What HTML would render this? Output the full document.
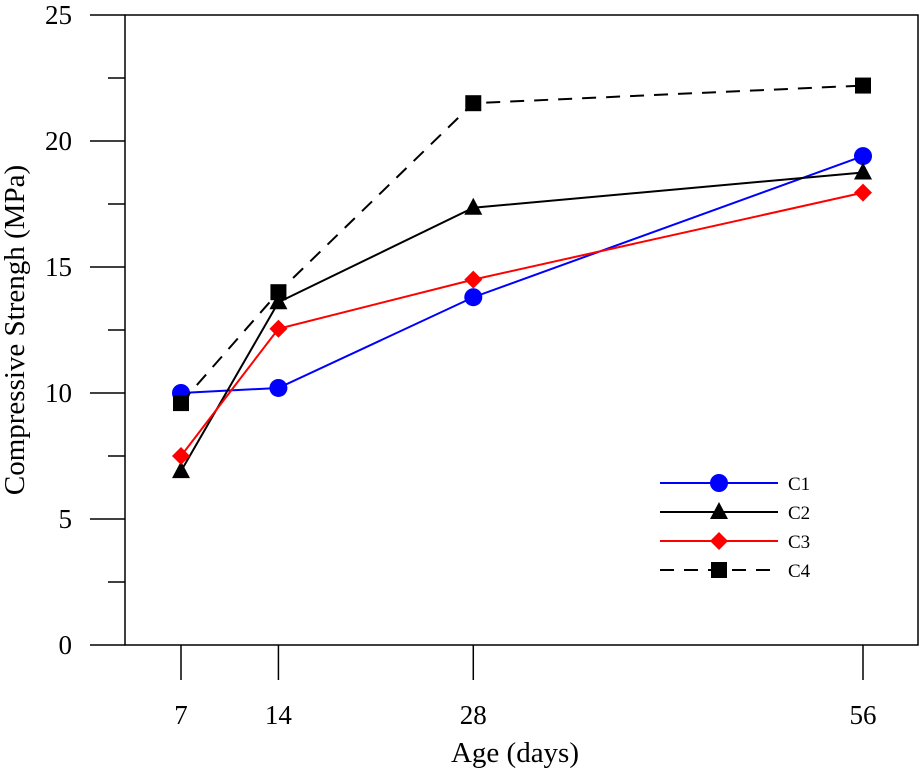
<!DOCTYPE html>
<html><head><meta charset="utf-8"><style>
body{margin:0;background:#fff}
svg text{font-family:"Liberation Serif",serif;fill:#000}
</style></head><body>
<svg id="chart" width="922" height="773" xmlns="http://www.w3.org/2000/svg">
<g id="axes"></g><g id="series"></g><g id="legend"></g>
</svg>
<script>
const categories=[7,14,28,56];
const c1=[10.0,10.2,13.8,19.4];
const c2=[6.9,13.6,17.35,18.75];
const c3=[7.5,12.55,14.5,17.95];
const c4=[9.6,14.0,21.5,22.2];
const yTicks=[0,5,10,15,20,25];
const seriesNames=["C1","C2","C3","C4"];

const NS="http://www.w3.org/2000/svg";
const L=125,R=918,T=15,B=645;
const x=d=>181+(d-7)*(863-181)/49;
const y=v=>B-(v/25)*(B-T);
function mk(tag,attrs,parent){const e=document.createElementNS(NS,tag);for(const k in attrs)e.setAttribute(k,attrs[k]);parent.appendChild(e);return e;}
const axes=document.getElementById('axes');
let f=mk('rect',{x:L,y:T,width:R-L,height:B-T,fill:'none',stroke:'#000','stroke-width':1.5},axes);


yTicks.forEach((v,i)=>{
  let t=mk('line',{x1:L-35,x2:L,y1:y(v),y2:y(v),stroke:'#000','stroke-width':1.5},axes);
  
  
  if(i<yTicks.length-1){let m=mk('line',{x1:L-17,x2:L,y1:y(v+2.5),y2:y(v+2.5),stroke:'#000','stroke-width':1.5},axes);
  
  }
  let lb=mk('text',{x:72,y:y(v)+9,'text-anchor':'end','font-size':27},axes);lb.textContent=v;
  
  
});
categories.forEach(d=>{
  let t=mk('line',{x1:x(d),x2:x(d),y1:B,y2:B+35,stroke:'#000','stroke-width':1.5},axes);
  
  
  let lb=mk('text',{x:x(d),y:724,'text-anchor':'middle','font-size':27},axes);lb.textContent=d;
  
  
});
let xt=mk('text',{x:515,y:762,'text-anchor':'middle','font-size':29},axes);xt.textContent='Age (days)';


let yt=mk('text',{x:0,y:0,'text-anchor':'middle','font-size':29,transform:'translate(24,330) rotate(-90)'},axes);yt.textContent='Compressive Strengh (MPa)';



function marker(kind,cx,cy,col,parent){
  if(kind==='circle')return mk('circle',{cx,cy,r:9,fill:col},parent);
  if(kind==='tri')return mk('polygon',{points:`${cx},${cy-10} ${cx-9},${cy+7} ${cx+9},${cy+7}`,fill:col},parent);
  if(kind==='diamond')return mk('polygon',{points:`${cx},${cy-9} ${cx+9},${cy} ${cx},${cy+9} ${cx-9},${cy}`,fill:col},parent);
  return mk('rect',{x:cx-8,y:cy-8,width:16,height:16,fill:col},parent);
}
const styles=[{d:c1,c:'#0000ff',m:'circle',dash:''},{d:c2,c:'#000',m:'tri',dash:''},{d:c3,c:'#ff0000',m:'diamond',dash:''},{d:c4,c:'#000',m:'square',dash:'14,10'}];
const sg=document.getElementById('series'),lg=document.getElementById('legend');
styles.forEach((s,i)=>{
  const g=mk('g',{},sg);
  
  
  let pl=mk('polyline',{points:s.d.map((v,j)=>x(categories[j])+','+y(v)).join(' '),fill:'none',stroke:s.c,'stroke-width':2,'stroke-dasharray':s.dash},g);
  
  
  s.d.forEach((v,j)=>{let m=marker(s.m,x(categories[j]),y(v),s.c,g);
    
    });
  const ly=483+i*29;
  const le=mk('g',{},lg);
  
  
  mk('line',{x1:660,x2:778,y1:ly,y2:ly,stroke:s.c,'stroke-width':2,'stroke-dasharray':s.dash},le);
  marker(s.m,719,ly,s.c,le);
  let t=mk('text',{x:788,y:ly+7,'font-size':19},le);t.textContent=seriesNames[i];
});
</script>
</body></html>
